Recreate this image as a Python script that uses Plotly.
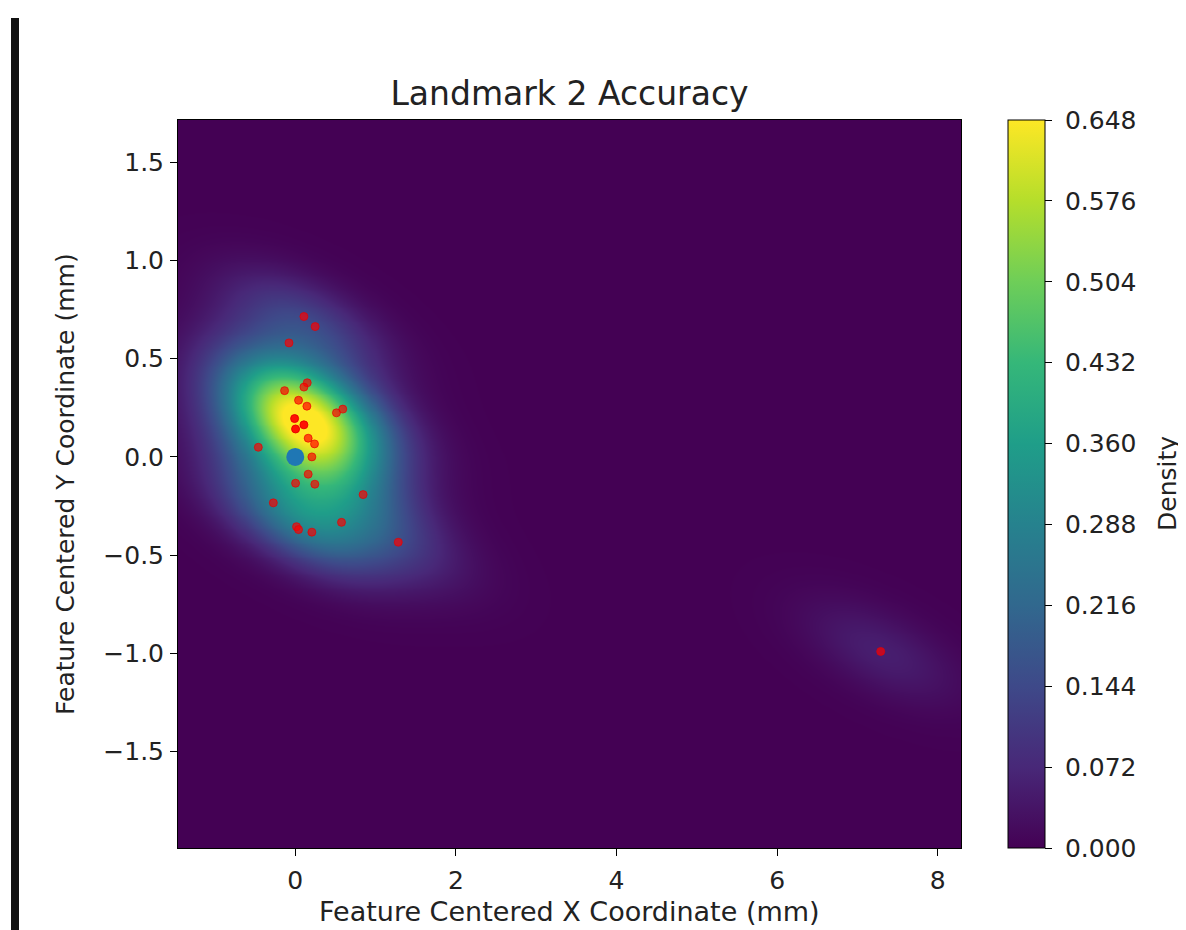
import numpy as np
import plotly.graph_objects as go

pts_x = [0.108, 0.248, -0.078, 0.149, 0.108, -0.133, 0.041, 0.145, 0.592, 0.513,
         -0.008, 0.108, 0.004, 0.161, 0.240, -0.460, 0.207, 0.161, 0.004, 0.244,
         0.845, -0.273, 0.576, 0.016, 0.041, 0.207, 1.283, 7.290]
pts_y = [0.714, 0.663, 0.580, 0.377, 0.355, 0.337, 0.288, 0.258, 0.243, 0.224,
         0.195, 0.163, 0.142, 0.095, 0.066, 0.049, 0.000, -0.088, -0.134, -0.139,
         -0.192, -0.234, -0.333, -0.355, -0.370, -0.383, -0.434, -0.990]
# Number of coincident measurements at each position (darker markers = more)
counts = [2, 2, 2, 2, 2, 2, 2, 2, 2, 2,
          4, 4, 4, 2, 2, 2, 2, 2, 2, 2,
          2, 2, 2, 2, 2, 2, 2, 2]
# Ground-truth feature centre
truth_x = [0.0]
truth_y = [0.0]

cbar_ticks = [0.000, 0.072, 0.144, 0.216, 0.288, 0.360, 0.432, 0.504, 0.576, 0.648]
x_ticks = [0, 2, 4, 6, 8]
y_ticks = [-1.5, -1.0, -0.5, 0.0, 0.5, 1.0, 1.5]

# Gaussian KDE (Scott's rule), same as scipy.stats.gaussian_kde
all_x = np.repeat(pts_x, counts)
all_y = np.repeat(pts_y, counts)
data = np.vstack([all_x, all_y])
n, d = data.shape[1], data.shape[0]
factor = n ** (-1.0 / (d + 4))
cov = np.cov(data) * factor ** 2
inv = np.linalg.inv(cov)
norm = 1.0 / (2 * np.pi * np.sqrt(np.linalg.det(cov)))

xmin, xmax = min(pts_x) - 1, max(pts_x) + 1
ymin, ymax = min(pts_y) - 1, max(pts_y) + 1
gx = np.linspace(xmin, xmax, 260)
gy = np.linspace(ymin, ymax, 260)
GX, GY = np.meshgrid(gx, gy)
Z = np.zeros_like(GX)
for xi, yi in zip(all_x, all_y):
    dx = GX - xi
    dy = GY - yi
    q = inv[0, 0] * dx * dx + 2 * inv[0, 1] * dx * dy + inv[1, 1] * dy * dy
    Z += np.exp(-0.5 * q)
Z = Z * norm / n

FONT = "DejaVu Sans"
TXT = "#222"
# page body has an 8px margin; plot area is placed at x 178-961, y 120-848 in the window
L, T = 170, 112
fig = go.Figure()
fig.add_trace(go.Heatmap(
    x=gx, y=gy, z=Z, colorscale="Viridis", zmin=0, zmax=max(cbar_ticks),
    zsmooth="best", hoverinfo="skip",
    colorbar=dict(
        x=(1008 - 178) / 783, xanchor="left", xpad=0, ypad=0,
        y=0.5, yanchor="middle", len=1, lenmode="fraction",
        thickness=37, outlinewidth=1, outlinecolor="black",
        ticks="outside", ticklen=7, tickwidth=1, tickcolor="black",
        tickvals=cbar_ticks, ticktext=["\u00a0" + f"{v:.3f}" for v in cbar_ticks],
        tickfont=dict(family=FONT, size=25, color=TXT),
    ),
))
alphas = [0.68 if c <= 2 else 0.92 for c in counts]
fig.add_trace(go.Scatter(
    x=pts_x, y=pts_y, mode="markers",
    marker=dict(size=8, color=[f"rgba(255,0,0,{a})" for a in alphas],
                line=dict(width=1, color=[f"rgba(230,0,0,{a})" for a in alphas])),
    showlegend=False,
))
fig.add_trace(go.Scatter(
    x=truth_x, y=truth_y, mode="markers",
    marker=dict(size=18, color="#1f77b4"), showlegend=False,
))

axis_common = dict(showline=True, mirror=True, linecolor="black", linewidth=1,
                   ticks="outside", ticklen=7, tickwidth=1, tickcolor="black",
                   showgrid=False, zeroline=False,
                   tickfont=dict(family=FONT, size=25, color=TXT))
fig.update_xaxes(range=[xmin, xmax], tickvals=x_ticks, ticktext=[str(v) for v in x_ticks],
                 ticklabelstandoff=3, **axis_common)
fig.update_yaxes(range=[ymin, ymax], tickvals=y_ticks,
                 ticktext=[(f"{v:.1f}").replace("-", "\u2212") for v in y_ticks],
                 ticklabelstandoff=1, **axis_common)

fig.update_layout(
    width=1186, height=930,
    margin=dict(l=L, r=1186 - 961 + 8, t=T, b=930 - 848 + 8),
    paper_bgcolor="white", plot_bgcolor="white",
    title=dict(text="Landmark 2 Accuracy", x=0.5, xref="paper", xanchor="center",
               y=1 - (93 - 8) / 930, yref="container", yanchor="middle",
               font=dict(family=FONT, size=33, color=TXT)),
    annotations=[
        dict(text="Feature Centered X Coordinate (mm)", xref="paper", yref="paper",
             x=0.5, y=(848 - 912) / 728, xanchor="center", yanchor="middle",
             showarrow=False, font=dict(family=FONT, size=27, color=TXT)),
        dict(text="Feature Centered Y Coordinate (mm)", xref="paper", yref="paper",
             x=(65 - 178) / 783, y=0.5, xanchor="center", yanchor="middle", textangle=-90,
             showarrow=False, font=dict(family=FONT, size=25, color=TXT)),
        dict(text="Density", xref="paper", yref="paper",
             x=(1167 - 178) / 783, y=0.5, xanchor="center", yanchor="middle", textangle=-90,
             showarrow=False, font=dict(family=FONT, size=25, color=TXT)),
    ],
    shapes=[dict(type="rect", xref="paper", yref="paper", layer="above",
                 x0=(11 - 178) / 783, x1=(19 - 178) / 783,
                 y0=(848 - 940) / 728, y1=(848 - 18) / 728,
                 fillcolor="#111", line=dict(width=0))],
)
fig.write_html("out.html")
